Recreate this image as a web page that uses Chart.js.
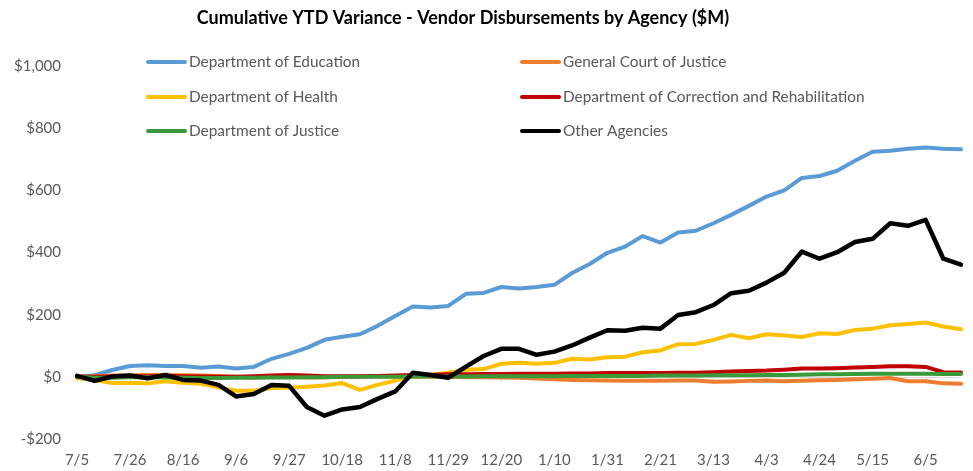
<!DOCTYPE html>
<html>
<head>
<meta charset="utf-8">
<script src="https://cdn.jsdelivr.net/npm/chart.js@4/dist/chart.umd.min.js"></script>
<style>
  html, body { margin: 0; padding: 0; background: #ffffff; }
  #wrap { position: relative; width: 973px; height: 471px; }
</style>
</head>
<body>
<div id="wrap"><canvas id="c" width="973" height="471"></canvas></div>
<script>
const categories = ["7/5","7/12","7/19","7/26","8/2","8/9","8/16","8/23","8/30","9/6","9/13","9/20","9/27","10/4","10/11","10/18","10/25","11/1","11/8","11/15","11/22","11/29","12/6","12/13","12/20","12/27","1/3","1/10","1/17","1/24","1/31","2/7","2/14","2/21","2/28","3/6","3/13","3/20","3/27","4/3","4/10","4/17","4/24","5/1","5/8","5/15","5/22","5/29","6/5","6/12","6/19"];

const chartTitle = "Cumulative YTD Variance - Vendor Disbursements by Agency ($M)";
const seriesNames = ["Department of Education","General Court of Justice","Department of Health","Department of Correction and Rehabilitation","Department of Justice","Other Agencies"];

const education = [0,5,22,35,37,35,35,29,33,27,32,58,74,93,119,129,137,164,196,226,223,228,267,270,289,284,289,296,334,363,399,419,453,432,464,470,494,521,550,580,600,640,646,663,695,724,727,734,738,734,732];
const generalCourt = [0,2,4,5,6,6,5,4,3,0,-2,0,0,-2,-1,0,1,2,2,1,0,0,-1,-1,-2,-3,-5,-8,-10,-11,-12,-13,-13,-13,-12,-12,-16,-15,-13,-12,-14,-13,-11,-10,-8,-6,-4,-14,-14,-21,-22];
const health = [-4,-10,-20,-20,-21,-14,-19,-22,-34,-45,-45,-36,-35,-32,-28,-20,-42,-26,-12,1,6,13,23,25,42,45,42,45,58,56,63,65,79,85,105,106,119,135,124,137,133,128,140,138,151,155,166,170,175,162,153];
const correction = [0,0,1,2,2,3,2,1,0,0,2,4,6,4,2,2,2,3,4,6,7,8,8,9,9,10,10,10,11,11,12,12,12,12,13,13,15,17,19,20,23,27,27,28,30,32,34,34,32,15,14];
const justice = [0,-3,-3,-1,-1,-2,-3,-4,-4,-3,-3,-2,-2,-1,-1,0,0,0,0,1,1,1,1,2,2,2,2,2,3,3,3,3,3,4,4,4,5,5,5,6,6,7,8,8,9,10,10,10,10,9,9];
const otherAgencies = [3,-13,1,4,-5,6,-10,-12,-26,-63,-55,-26,-29,-97,-125,-105,-97,-71,-47,13,6,-3,33,67,90,90,71,81,101,126,150,148,158,155,199,208,231,269,277,303,335,403,380,401,434,444,494,486,505,380,361];

const yTicks = [-200, 0, 200, 400, 600, 800, 1000];
const xLabelEvery = 3;

const colors = ["#5B9BD5","#ED7D31","#FFC000","#C00000","#3A9A3A","#000000"];
const allValues = [education, generalCourt, health, correction, justice, otherAgencies];

const FONT = "Lato, 'Open Sans', sans-serif";
const TEXT = "#595959";

const datasets = allValues.map((vals, i) => ({
  label: seriesNames[i],
  data: vals,
  borderColor: colors[i],
  backgroundColor: colors[i],
  borderWidth: i === 5 ? 4.5 : 4,
  pointRadius: 0,
  pointHoverRadius: 0,
  tension: 0,
  fill: false,
  borderJoinStyle: 'round',
  borderCapStyle: 'round',
  order: 6 - i
}));

const titleLegendPlugin = {
  id: 'titleLegend',
  afterDatasetsDraw(chart) {
    const ctx = chart.ctx;
    ctx.save();
    // title
    ctx.font = "bold 18px " + FONT;
    ctx.fillStyle = "#000000";
    ctx.textAlign = 'center';
    ctx.textBaseline = 'middle';
    ctx.fillText(chartTitle, 463, 18);
    // legend in a 2-column grid
    const colX = [148, 522];
    const rowY = [62, 97, 131];
    ctx.font = "15.4px " + FONT;
    ctx.textAlign = 'left';
    seriesNames.forEach((name, i) => {
      const col = i % 2, row = Math.floor(i / 2);
      const x = colX[col], y = rowY[row];
      ctx.strokeStyle = colors[i];
      ctx.lineWidth = 4;
      ctx.lineCap = 'round';
      ctx.beginPath();
      ctx.moveTo(x, y);
      ctx.lineTo(x + 37, y);
      ctx.stroke();
      ctx.fillStyle = TEXT;
      ctx.fillText(name, x + 41, y);
    });
    ctx.restore();
  }
};

const zeroLinePlugin = {
  id: 'zeroLine',
  beforeDatasetsDraw(chart) {
    const ctx = chart.ctx;
    const xs = chart.scales.x, ys = chart.scales.y;
    const y0 = Math.round(ys.getPixelForValue(0));
    ctx.save();
    ctx.strokeStyle = "#D9D9D9";
    ctx.lineWidth = 1;
    ctx.beginPath();
    ctx.moveTo(chart.chartArea.left, y0 + 0.5);
    ctx.lineTo(chart.chartArea.right, y0 + 0.5);
    for (let i = 0; i < categories.length; i += xLabelEvery) {
      const x = Math.round(xs.getPixelForValue(i)) + 0.5;
      ctx.moveTo(x, y0);
      ctx.lineTo(x, y0 + 5);
    }
    ctx.stroke();
    ctx.restore();
  }
};

new Chart(document.getElementById('c'), {
  type: 'line',
  data: { labels: categories, datasets },
  plugins: [zeroLinePlugin, titleLegendPlugin],
  options: {
    responsive: false,
    animation: false,
    events: [],
    layout: { padding: { left: 0, right: 11, top: 66, bottom: 0 } },
    plugins: {
      legend: { display: false },
      tooltip: { enabled: false },
      title: { display: false }
    },
    scales: {
      x: {
        type: 'category',
        offset: false,
        grid: { display: false, drawTicks: false },
        border: { display: false },
        afterFit: (s) => { s.height = 32; },
        ticks: {
          autoSkip: false,
          maxRotation: 0,
          minRotation: 0,
          padding: 12,
          color: TEXT,
          font: { family: FONT, size: 15 },
          callback: (v, i) => (i % xLabelEvery === 0 ? categories[i] : '')
        }
      },
      y: {
        min: yTicks[0],
        max: yTicks[yTicks.length - 1],
        afterBuildTicks: (s) => { s.ticks = yTicks.map(v => ({ value: v })); },
        afterFit: (s) => { s.width = 77; },
        grid: { display: false, drawTicks: false },
        border: { display: false },
        ticks: {
          padding: 16,
          color: TEXT,
          font: { family: FONT, size: 15 },
          callback: (v) => (v < 0 ? "-$" : "$") + Math.abs(v).toLocaleString('en-US')
        }
      }
    }
  }
});
</script>
</body>
</html>
